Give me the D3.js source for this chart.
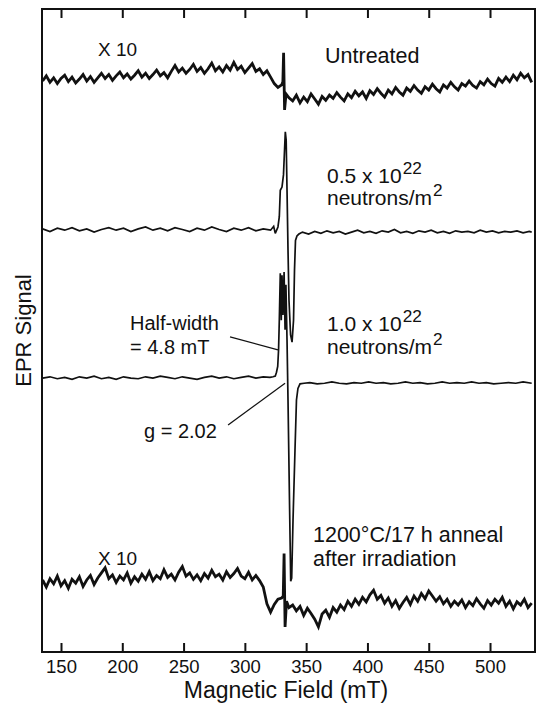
<!DOCTYPE html>
<html>
<head>
<meta charset="utf-8">
<script src="https://cdn.jsdelivr.net/npm/d3@7"></script>
<style>
  html, body { margin: 0; padding: 0; background: #fff; }
  svg { display: block; }
  text { font-family: "Liberation Sans", Arial, Helvetica, sans-serif; fill: #111; }
</style>
</head>
<body>
<svg id="chart" width="540" height="705"></svg>
<script>
// ---------- data (magnetic field in mT, EPR signal in arbitrary units) ----------
const fieldTicks = [150, 200, 250, 300, 350, 400, 450, 500];
const fieldDomain = [134.5, 536.7];
const signalDomain = [0, 1000];

// vertical offsets of the stacked spectra (arb. units)
const offsetUntreated = 890;
const offsetLowDose = 656;
const offsetHighDose = 426;
const offsetAnneal = 109;

// Untreated (x10)  [field, signal]
const untreated = [
 [135,-2],[138,6],[141,-4],[144,3],[147,-6],[150,2],[153,7],[156,-3],[159,4],[162,-5],
 [165,1],[168,8],[171,-2],[174,5],[177,-4],[180,3],[183,10],[186,2],[189,8],[192,-1],
 [195,6],[198,12],[201,3],[204,9],[207,1],[210,7],[213,14],[216,4],[219,10],[222,2],
 [225,8],[228,15],[231,6],[234,11],[237,3],[240,13],[243,22],[246,12],[249,18],[252,10],
 [255,16],[258,24],[261,13],[264,19],[267,10],[270,17],[273,26],[276,14],[279,20],[282,12],
 [285,22],[288,15],[291,27],[294,16],[297,21],[300,11],[303,18],[306,25],[309,13],[312,17],
 [315,8],[318,14],[321,4],[324,-6],[327,-12],[330,-8],[331,-3],[331.6,42],[332.4,-47],[333.6,-22],
 [336,-28],[339,-33],[342,-24],[345,-36],[348,-27],[351,-34],[354,-22],[357,-30],[360,-38],[363,-26],
 [366,-32],[369,-24],[372,-29],[375,-20],[378,-27],[381,-33],[384,-22],[387,-28],[390,-18],[393,-25],
 [396,-19],[399,-29],[402,-17],[405,-23],[408,-14],[411,-21],[414,-27],[417,-16],[420,-22],[423,-12],
 [426,-19],[429,-24],[432,-13],[435,-18],[438,-9],[441,-16],[444,-21],[447,-11],[450,-16],[453,-7],
 [456,-14],[459,-19],[462,-8],[465,-13],[468,-4],[471,-11],[474,-16],[477,-6],[480,-10],[483,-2],
 [486,-9],[489,-13],[492,-3],[495,-8],[498,1],[501,-6],[504,-10],[507,2],[510,-4],[513,4],
 [516,-3],[519,7],[522,0],[525,10],[528,3],[531,8],[534,-4]
];

// 0.5 x 10^22 neutrons/m^2
const lowDose = [
 [135,2],[141,-2],[147,3],[153,0],[159,4],[165,-1],[171,2],[177,-3],[183,1],[189,4],
 [195,0],[201,3],[207,-2],[213,2],[219,5],[225,0],[231,3],[237,-1],[243,4],[249,1],
 [255,-2],[261,3],[267,0],[273,5],[279,1],[285,-2],[291,3],[297,0],[303,4],[309,-1],
 [315,2],[321,0],[323.5,6],[324.8,-5],[327,5],[328.1,21],[328.9,62],[330.3,67],[331.5,86],[333,153],
 [333.7,140],[334.4,62],[335.2,-31],[336,-109],[337.3,-163],[338.5,-174],[339.7,-140],[340.5,-62],[341.3,-16],[342.5,-9],
 [344.1,-6],[347,-3],[352,-6],[357,-2],[362,-5],[367,-1],[372,-4],[377,-2],[382,-6],[387,-3],
 [392,0],[397,-4],[402,-2],[407,-5],[412,-1],[417,-3],[422,1],[427,-4],[432,-2],[437,-5],
 [442,-1],[447,-3],[452,0],[457,-4],[462,-2],[467,-5],[472,-1],[477,-3],[482,-2],[487,-4],
 [492,0],[497,-3],[502,-1],[507,-4],[512,-2],[517,-3],[522,-1],[527,-4],[532,-2],[534,-3]
];

// 1.0 x 10^22 neutrons/m^2
const highDose = [
 [135,0],[141,2],[147,-1],[153,1],[159,-2],[165,2],[171,0],[177,3],[183,-1],[189,1],
 [195,-2],[201,2],[207,0],[213,-1],[219,2],[225,0],[231,3],[237,1],[243,-1],[249,2],
 [255,0],[261,-2],[267,1],[273,3],[279,0],[285,2],[291,-1],[297,1],[303,3],[309,0],
 [315,2],[320.5,1],[323,2],[324.8,3],[325.8,9],[326.8,18],[327.5,44],[328.1,90],[328.9,163],[329.7,90],
 [330.3,160],[331.1,98],[332,165],[332.8,75],[333.5,145],[334.4,59],[335.2,-34],[336.4,-190],[337.4,-316],[338.2,-311],
 [339.3,-220],[340.9,-112],[342.1,-34],[343.3,-16],[345,-9],[348.3,-8],[353,-7],[359,-9],[365,-8],[371,-6],
 [377,-8],[383,-9],[389,-7],[395,-8],[401,-6],[407,-8],[413,-7],[419,-9],[425,-8],[431,-6],
 [437,-8],[443,-7],[449,-9],[455,-8],[461,-6],[467,-8],[473,-7],[479,-8],[485,-6],[491,-8],
 [497,-7],[503,-9],[509,-8],[515,-7],[521,-8],[527,-6],[534,-8]
];

// 1200 C / 17 h anneal after irradiation (x10)
const anneal = [
 [135,3],[138,-8],[141,5],[144,-3],[147,9],[150,-6],[153,2],[156,-10],[159,4],[162,-2],
 [165,8],[168,-7],[171,3],[174,10],[177,-4],[180,6],[183,14],[186,22],[189,5],[192,11],
 [195,-1],[198,9],[201,3],[204,14],[207,-2],[210,8],[213,1],[216,12],[219,4],[222,16],
 [225,2],[228,10],[231,5],[234,19],[237,7],[240,12],[243,3],[246,15],[249,24],[252,9],
 [255,14],[258,4],[261,11],[264,2],[267,13],[270,6],[273,18],[276,8],[279,12],[282,3],
 [285,16],[288,7],[291,13],[294,21],[297,9],[300,5],[303,15],[306,3],[309,10],[312,2],
 [315,-8],[318,-34],[321,-47],[324,-35],[327,-27],[330,-25],[331.3,-22],[332,44],[332.8,-70],[334,-30],
 [336,-40],[339,-36],[342,-45],[345,-38],[348,-52],[351,-41],[354,-49],[357,-58],[360,-70],[363,-50],
 [366,-44],[369,-55],[372,-40],[375,-47],[378,-36],[381,-43],[384,-30],[387,-38],[390,-27],[393,-35],
 [396,-24],[399,-31],[402,-20],[405,-13],[408,-27],[411,-21],[414,-33],[417,-25],[420,-38],[423,-29],
 [426,-41],[429,-32],[432,-24],[435,-35],[438,-22],[441,-30],[444,-18],[447,-26],[450,-14],[453,-22],
 [456,-30],[459,-23],[462,-34],[465,-27],[468,-38],[471,-30],[474,-36],[477,-28],[480,-40],[483,-31],
 [486,-37],[489,-26],[492,-34],[495,-41],[498,-29],[501,-36],[504,-27],[507,-33],[510,-24],[513,-38],
 [516,-30],[519,-42],[522,-31],[525,-36],[528,-27],[531,-40],[534,-33]
];

// annotation anchors in data coordinates [field, signal]
const labelUpperX10 = [180.2, 927];
const labelUntreated = [365.4, 916];
const labelLow1 = [367.0, 729];
const labelLow2 = [367.0, 695];
const labelHigh1 = [367.0, 499];
const labelHigh2 = [367.0, 463];
const labelHalf1 = [206.3, 501];
const labelHalf2 = [206.3, 463];
const labelG = [217.7, 333];
const labelAnneal1 = [355.6, 171];
const labelAnneal2 = [355.6, 134];
const labelLowerX10 = [180.2, 135];
const leaderHalf = [[287.9, 490], [327.0, 470]];
const leaderG = [[286.3, 353], [332.8, 418]];

// ---------- drawing ----------
const svg = d3.select("#chart");
const plotLeft = 42, plotRight = 535, plotTop = 9, plotBottom = 652;

const x = d3.scaleLinear().domain(fieldDomain).range([plotLeft, plotRight]);
const y = d3.scaleLinear().domain(signalDomain).range([plotBottom, plotTop]);

function lineFor(offset) {
  return d3.line().x(d => x(d[0])).y(d => y(d[1] + offset)).curve(d3.curveLinear);
}

const traces = [
  {data: untreated, off: offsetUntreated, w: 2.8},
  {data: lowDose, off: offsetLowDose, w: 1.7},
  {data: highDose, off: offsetHighDose, w: 1.7},
  {data: anneal, off: offsetAnneal, w: 2.8}
];
svg.append("g").selectAll("path").data(traces).join("path")
  .attr("d", t => lineFor(t.off)(t.data))
  .attr("fill", "none").attr("stroke", "#111")
  .attr("stroke-width", t => t.w).attr("stroke-linejoin", "miter").attr("stroke-miterlimit", 3);

// frame
svg.append("rect").attr("x", plotLeft).attr("y", plotTop)
  .attr("width", plotRight - plotLeft).attr("height", plotBottom - plotTop)
  .attr("fill", "none").attr("stroke", "#111").attr("stroke-width", 2);

// bottom axis with inward ticks
const gx = svg.append("g").attr("transform", `translate(0,${plotBottom})`)
  .call(d3.axisBottom(x).tickValues(fieldTicks).tickSizeInner(-9).tickSizeOuter(0).tickPadding(8));
gx.select(".domain").remove();
gx.selectAll(".tick line").attr("stroke", "#111").attr("stroke-width", 2);
gx.selectAll(".tick text").attr("font-size", 18.5).attr("fill", "#111")
  .attr("font-family", "Liberation Sans, Arial, sans-serif");

// top axis ticks
const gt = svg.append("g").attr("transform", `translate(0,${plotTop})`)
  .call(d3.axisTop(x).tickValues(fieldTicks).tickSizeInner(-9).tickSizeOuter(0).tickFormat(""));
gt.select(".domain").remove();
gt.selectAll(".tick line").attr("stroke", "#111").attr("stroke-width", 2);

// axis titles
svg.append("text").attr("x", 286).attr("y", 698)
  .attr("text-anchor", "middle").attr("font-size", 23).text("Magnetic Field (mT)");
svg.append("text").attr("transform", `translate(31,${(plotTop + plotBottom) / 2}) rotate(-90)`)
  .attr("text-anchor", "middle").attr("font-size", 22).text("EPR Signal");

// annotations
function label(pos, txt, size, sup) {
  const t = svg.append("text").attr("x", x(pos[0])).attr("y", y(pos[1]))
    .attr("font-size", size).text(txt);
  if (sup) t.append("tspan").attr("dx", 1).attr("dy", -9).attr("font-size", size * 0.82).text(sup);
  return t;
}
label(labelUpperX10, "X 10", 19);
label(labelUntreated, "Untreated", 21.5);
label(labelLow1, "0.5 x 10", 21, "22");
label(labelLow2, "neutrons/m", 21, "2");
label(labelHigh1, "1.0 x 10", 21, "22");
label(labelHigh2, "neutrons/m", 21, "2");
label(labelHalf1, "Half-width", 20);
label(labelHalf2, "= 4.8 mT", 20);
label(labelG, "g = 2.02", 20);
label(labelAnneal1, "1200°C/17 h anneal", 21.5);
label(labelAnneal2, "after irradiation", 21.5);
label(labelLowerX10, "X 10", 19);

const leader = d3.line().x(d => x(d[0])).y(d => y(d[1]));
svg.append("g").selectAll("path").data([leaderHalf, leaderG]).join("path")
  .attr("d", leader).attr("fill", "none").attr("stroke", "#111").attr("stroke-width", 1.3);
</script>
</body>
</html>
